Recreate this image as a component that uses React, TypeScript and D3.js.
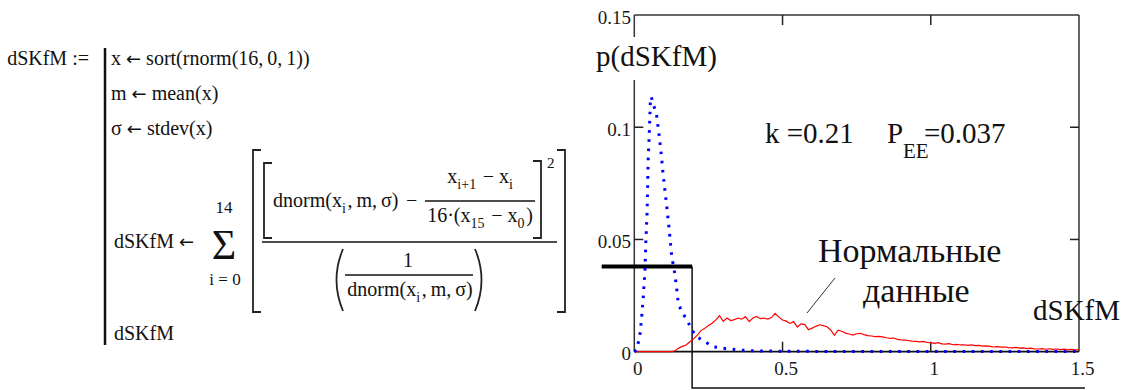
import React from "react";
import * as d3 from "d3";

// axis ticks
const xTickLabels = [0, 0.5, 1, 1.5];
const yTickLabels = [0, 0.05, 0.1, 0.15];
const xInnerTicks = [0.5, 1];
const yInnerTicks = [0.05, 0.1];

// blue dotted curve (dSKfM under the hypothesis)
const blueX = [0, 0.008, 0.019, 0.025, 0.030, 0.036, 0.039, 0.043, 0.045, 0.047, 0.051, 0.054, 0.057, 0.066, 0.075, 0.083, 0.090, 0.096, 0.103, 0.110, 0.117, 0.120, 0.126, 0.137, 0.145, 0.148, 0.160, 0.179, 0.193, 0.210, 0.238, 0.266, 0.30, 0.35, 0.40, 0.50, 0.70, 1.0, 1.5];
const blueY = [0, 0.0008, 0.0074, 0.0156, 0.0238, 0.0364, 0.049, 0.0617, 0.0735, 0.0862, 0.0988, 0.1107, 0.1136, 0.1095, 0.1055, 0.0973, 0.0891, 0.0806, 0.0723, 0.0639, 0.0554, 0.0512, 0.0426, 0.0345, 0.026, 0.0218, 0.0178, 0.0138, 0.010, 0.0067, 0.0045, 0.0022, 0.0015, 0.0008, 0.0004, 0.0002, 0.0001, 0.0001, 0.0001];

// red curve, "Нормальные данные", one value per bin of 0.0125
const redBin = 0.0125;
const redY = [
  0, 0, 0, 0, 0, 0, 0, 0, 0, 0, 0,
  0.0004, 0.0016, 0.0024, 0.0030, 0.0044, 0.0057, 0.0074, 0.0094, 0.0104, 0.0117,
  0.0127, 0.0142, 0.0160, 0.0135, 0.0150, 0.0139, 0.0143, 0.0150, 0.0145, 0.0156,
  0.0134, 0.0150, 0.0157, 0.0147, 0.0150, 0.0145, 0.0152, 0.0171, 0.0154, 0.0141,
  0.0136, 0.0126, 0.0134, 0.0110, 0.0124, 0.0121, 0.0098, 0.0105, 0.0113, 0.0120,
  0.0116, 0.0111, 0.0097, 0.0073, 0.0096, 0.0091, 0.0083, 0.0079, 0.0074, 0.0080,
  0.0082, 0.0076, 0.0072, 0.0070, 0.0067, 0.0068, 0.0066, 0.0062, 0.0059, 0.0061,
  0.0055, 0.0053, 0.0052, 0.0049, 0.0047, 0.0046, 0.0044, 0.0046, 0.0041, 0.0040,
  0.0037, 0.0040, 0.0035, 0.0034, 0.0036, 0.0031, 0.0033, 0.0030, 0.0031, 0.0028,
  0.0030, 0.0027, 0.0028, 0.0025, 0.0026, 0.0024, 0.0021, 0.0023, 0.0020, 0.0021,
  0.0018, 0.0017, 0.0019, 0.0016, 0.0017, 0.0014, 0.0016, 0.0013, 0.0012, 0.0014,
  0.0011, 0.0013, 0.0010, 0.0012, 0.0009, 0.0011, 0.0008, 0.0010, 0.0008, 0.0008,
];

// critical value marker: k and P_EE
const kLineX = 0.195;
const pLineY = 0.038;
const markerLeft = -0.11;
const markerBottom = -0.0162;
const markerRight = 1.52;

const kText = "k =0.21";
const pValueText = "=0.037";

const serif = "'Liberation Serif', serif";
const arrowFont = "'DejaVu Sans', sans-serif";
const th = "\u2009";

function Formula() {
  const fs = 20;
  const sub = (s: string, size = 14) => (
    <>
      <tspan dy={6} fontSize={size}>{s}</tspan>
      <tspan dy={-6}>{"\u200A"}</tspan>
    </>
  );
  const arrow = <tspan style={{ fontFamily: arrowFont }} fontSize={18}>←</tspan>;
  const bracketL = (x: number, y1: number, y2: number) =>
    `M${x + 8},${y1}H${x}V${y2}H${x + 8}`;
  const bracketR = (x: number, y1: number, y2: number) =>
    `M${x - 8},${y1}H${x}V${y2}H${x - 8}`;
  return (
    <g style={{ fontFamily: serif }} fontSize={fs} fill="#111">
      <text x={89} y={65} textAnchor="end">dSKfM :=</text>
      <line x1={105} x2={105} y1={48} y2={345} stroke="#111" strokeWidth={2.5} />
      <text x={111} y={65}>x {arrow} sort(rnorm(16,{th}0,{th}1))</text>
      <text x={111} y={100}>m {arrow} mean(x)</text>
      <text x={111} y={135}>σ {arrow} stdev(x)</text>
      <text x={114} y={248}>dSKfM {arrow}</text>
      <text x={224} y={213} textAnchor="middle" fontSize={17}>14</text>
      <text x={224} y={259} textAnchor="middle" fontSize={42}>Σ</text>
      <text x={225} y={285} textAnchor="middle" fontSize={17}>i = 0</text>

      <g fill="none" stroke="#222" strokeWidth={1.8}>
        <path d={bracketL(253, 150, 312)} />
        <path d={bracketR(565, 150, 312)} />
        <path d={bracketL(264, 163, 238)} />
        <path d={bracketR(541, 161, 238)} />
        <path d="M343,249 Q330,280 343,311" />
        <path d="M475,249 Q488,280 475,311" />
      </g>
      <text x={273} y={207}>dnorm(x{sub("i")},{th}m,{th}σ)</text>
      <text x={406} y={207}>−</text>
      <text x={481} y={183} textAnchor="middle">x{sub("i+1")} − x{sub("i")}</text>
      <line x1={425} x2={535} y1={201} y2={201} stroke="#111" strokeWidth={1.3} />
      <text x={480} y={222} textAnchor="middle">16·(x{sub("15")} − x{sub("0")})</text>
      <text x={547} y={168} fontSize={15}>2</text>
      <line x1={262} x2={557} y1={242} y2={242} stroke="#111" strokeWidth={1.5} />
      <text x={408} y={267} textAnchor="middle">1</text>
      <line x1={345} x2={473} y1={275} y2={275} stroke="#111" strokeWidth={1.3} />
      <text x={410} y={296} textAnchor="middle">dnorm(x{sub("i")},{th}m,{th}σ)</text>
      <text x={114} y={340}>dSKfM</text>
    </g>
  );
}

function Chart() {
  const x = d3.scaleLinear().domain([0, 1.5]).range([634.3, 1079]);
  const y = d3.scaleLinear().domain([0, 0.15]).range([351.7, 15]);

  const bluePts: [number, number][] = blueX.map((v, i) => [v, blueY[i]]);
  const redPts: [number, number][] = redY.map((v, i) => [i * redBin, v]);
  const line = d3.line<[number, number]>().x((d) => x(d[0])).y((d) => y(d[1]));

  const x0 = x(0), x1 = x(1.5), yTop = y(0.15), yBot = y(0);

  return (
    <g style={{ fontFamily: serif }}>
      {/* frame */}
      <g stroke="#333" strokeWidth={1.5}>
        <line x1={x0} x2={x1} y1={yTop} y2={yTop} />
        <line x1={x1} x2={x1} y1={yTop} y2={yBot} />
        <line x1={x0} x2={x0} y1={yTop} y2={yBot} />
      </g>
      <line x1={x0} x2={x1} y1={yBot} y2={yBot} stroke="#111" strokeWidth={1.8} />
      {/* inner ticks */}
      <g stroke="#222" strokeWidth={1.5}>
        {xInnerTicks.map((t) => (
          <g key={"x" + t}>
            <line x1={x(t)} x2={x(t)} y1={yBot} y2={yBot - 10} />
            <line x1={x(t)} x2={x(t)} y1={yTop} y2={yTop + 10} />
          </g>
        ))}
        {yInnerTicks.map((t) => (
          <g key={"y" + t}>
            <line x1={x0} x2={x0 + 9} y1={y(t)} y2={y(t)} />
            <line x1={x1} x2={x1 - 9} y1={y(t)} y2={y(t)} />
          </g>
        ))}
      </g>
      {/* tick labels */}
      <g fontSize={19} fill="#1a1a1a">
        {yTickLabels.map((t) => (
          <text key={"yl" + t} x={631} y={y(t) + 8.5} textAnchor="end">{t}</text>
        ))}
        {xTickLabels.map((t) => (
          <text key={"xl" + t} x={x(t) + 3.5} y={375} textAnchor="middle">{t}</text>
        ))}
      </g>
      {/* y label over the axis */}
      <rect x={594} y={37} width={128} height={43} fill="#fff" />
      <text x={596} y={66} fontSize={29} fill="#111">p(dSKfM)</text>
      <text x={1033} y={320} fontSize={29} fill="#111">dSKfM</text>

      {/* critical value marker */}
      <path
        d={`M${x(kLineX)},${y(pLineY)}V${y(markerBottom)}H${x(markerRight)}`}
        fill="none" stroke="#111" strokeWidth={1.5}
      />
      <line x1={x(markerLeft)} x2={x(kLineX)} y1={y(pLineY)} y2={y(pLineY)} stroke="#000" strokeWidth={4} />

      {/* curves */}
      <path d={line(redPts) ?? ""} fill="none" stroke="#ff0000" strokeWidth={1.2} />
      <path d={line(bluePts) ?? ""} fill="none" stroke="#0000ff" strokeWidth={3} strokeDasharray="2.6 6.6" />

      {/* annotations */}
      <g fontSize={29} fill="#111">
        <text x={765} y={143}>{kText}</text>
        <text x={887} y={143}>P</text>
        <text x={903} y={158} fontSize={21}>EE</text>
        <text x={924} y={143}>{pValueText}</text>
      </g>
      <g fontSize={34} fill="#111">
        <text x={818} y={262}>Нормальные</text>
        <text x={863} y={302}>данные</text>
      </g>
      <line x1={835} y1={278} x2={807} y2={313} stroke="#333" strokeWidth={1} />
    </g>
  );
}

export default function App() {
  return (
    <svg
      width={1131}
      height={390}
      style={{ position: "absolute", left: 0, top: 0, background: "#fff" }}
    >
      <rect width={1131} height={390} fill="#fff" />
      <Formula />
      <Chart />
    </svg>
  );
}
